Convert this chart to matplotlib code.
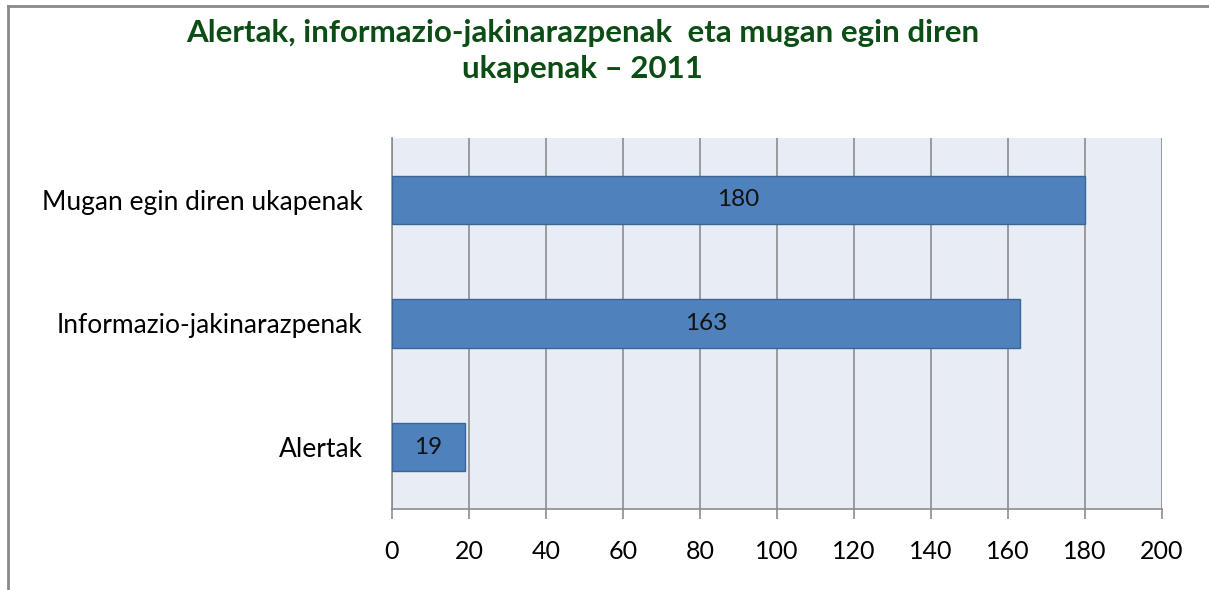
import matplotlib
matplotlib.use("Agg")
from matplotlib import pyplot as plt
from matplotlib.lines import Line2D

# data
categories = ["Alertak", "Informazio-jakinarazpenak", "Mugan egin diren ukapenak"]
values = [19, 163, 180]
xticks = [0, 20, 40, 60, 80, 100, 120, 140, 160, 180, 200]
title = "Alertak, informazio-jakinarazpenak  eta mugan egin diren\nukapenak \u2013 2011"

plt.rcParams['font.family'] = ['Lato', 'DejaVu Sans']

fig = plt.figure(figsize=(12.09, 5.9), dpi=100)
ax = fig.add_axes([0.3242, 0.1373, 0.6369, 0.6288])

ax.set_facecolor("#E8ECF4")
bars = ax.barh(range(len(categories)), values, height=0.39,
               color="#4F81BD", edgecolor="#3B6598", linewidth=1.0, zorder=3)
for b, v in zip(bars, values):
    ax.text(b.get_width() / 2, b.get_y() + b.get_height() / 2, str(v),
            ha="center", va="center", fontsize=17.5, color="#111111", zorder=4)

ax.set_xlim(0, 200)
ax.set_ylim(-0.5, len(categories) - 0.5)
ax.set_xticks(xticks)
ax.set_xticklabels([str(t) for t in xticks], fontsize=18)
ax.set_yticks(range(len(categories)))
ax.set_yticklabels(categories, fontsize=19)
ax.tick_params(axis="x", length=7, width=1.2, color="#8C8C8C", pad=15)
ax.tick_params(axis="y", length=0, pad=21)
ax.xaxis.grid(True, color="#8C8C8C", linewidth=1.2, zorder=1)
ax.set_axisbelow(True)
for side in ["top", "right"]:
    ax.spines[side].set_visible(False)
for side in ["left", "bottom"]:
    ax.spines[side].set_color("#8C8C8C")
    ax.spines[side].set_linewidth(1.2)

fig.text(0.482, 1 - 19 / 590, title, ha="center", va="top", fontsize=22.5,
         fontweight="bold", color="#0B4D14", linespacing=1.35)

# outer frame (left and top only)
fig.add_artist(Line2D([8 / 1209, 8 / 1209], [0, 1 - 6 / 590],
                      transform=fig.transFigure, color="#8A8A8A", linewidth=2))
fig.add_artist(Line2D([8 / 1209, 1], [1 - 6 / 590, 1 - 6 / 590],
                      transform=fig.transFigure, color="#8A8A8A", linewidth=2))

fig.savefig("out.png", dpi=100)
